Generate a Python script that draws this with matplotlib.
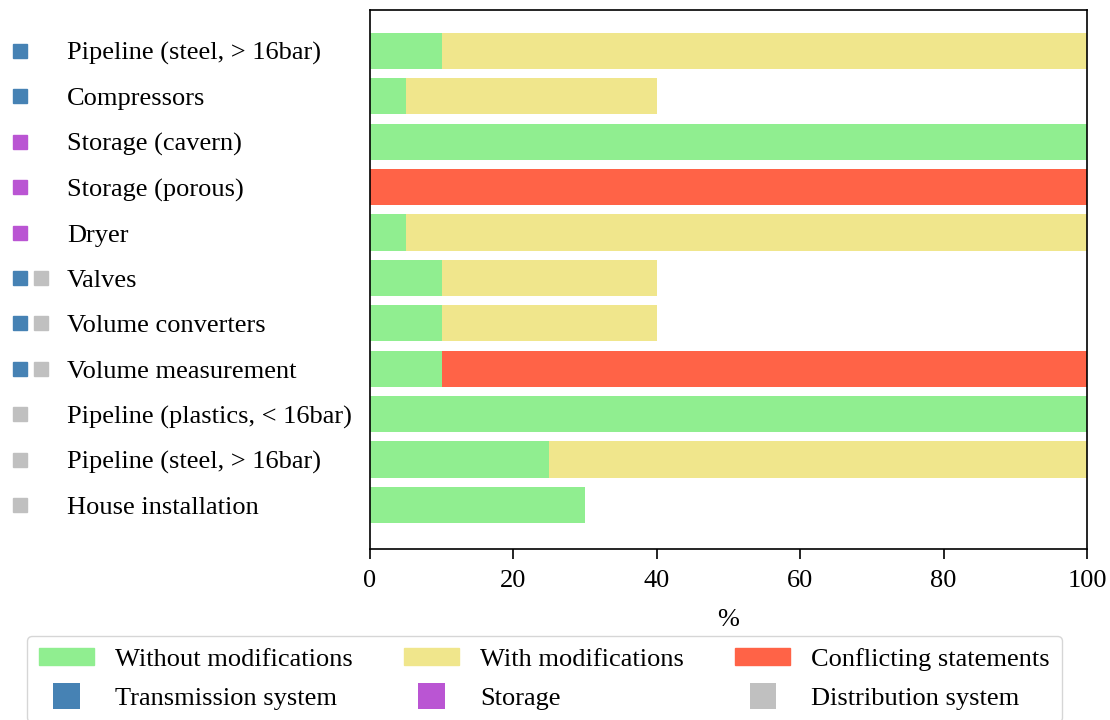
import numpy as np
import matplotlib
matplotlib.use("Agg")
import matplotlib.pyplot as plt
from matplotlib.patches import Patch, Rectangle
from matplotlib.legend_handler import HandlerPatch

plt.rcParams["font.family"] = ["Liberation Serif", "DejaVu Serif"]
plt.rcParams["font.size"] = 19

components = [
    "Pipeline (steel, > 16bar)",
    "Compressors",
    "Storage (cavern)",
    "Storage (porous)",
    "Dryer",
    "Valves",
    "Volume converters",
    "Volume measurement",
    "Pipeline (plastics, < 16bar)",
    "Pipeline (steel, > 16bar)",
    "House installation",
]
without_mod = [10, 5, 100, 0, 5, 10, 10, 10, 100, 25, 30]
with_mod = [90, 35, 0, 0, 95, 30, 30, 0, 0, 75, 0]
conflicting = [0, 0, 0, 100, 0, 0, 0, 90, 0, 0, 0]
# which part of the grid each component belongs to
systems = [
    ["transmission"],
    ["transmission"],
    ["storage"],
    ["storage"],
    ["storage"],
    ["transmission", "distribution"],
    ["transmission", "distribution"],
    ["transmission", "distribution"],
    ["distribution"],
    ["distribution"],
    ["distribution"],
]

C_WITHOUT = "lightgreen"
C_WITH = "khaki"
C_CONFLICT = "tomato"
sys_colors = {"transmission": "steelblue", "storage": "mediumorchid", "distribution": "silver"}

W, H = 1110, 720
fig = plt.figure(figsize=(W / 100, H / 100), dpi=100)
ax = fig.add_axes([370 / W, 1 - 549 / H, 717 / W, 539 / H])

y = np.arange(len(components))
w0 = np.array(without_mod)
w1 = np.array(with_mod)
w2 = np.array(conflicting)
ax.barh(y, w0, height=0.8, color=C_WITHOUT)
ax.barh(y, w1, left=w0, height=0.8, color=C_WITH)
ax.barh(y, w2, left=w0 + w1, height=0.8, color=C_CONFLICT)

ax.set_xlim(0, 100)
ax.set_ylim(len(components) - 0.03, -0.9)
ax.set_yticks([])
ax.set_xticks([0, 20, 40, 60, 80, 100])
ax.tick_params(axis="x", length=7, width=1.2, pad=8)
ax.set_xlabel("%", labelpad=12)
for s in ax.spines.values():
    s.set_linewidth(1.2)

# component names and system markers on the left
for i, name in enumerate(components):
    yc = ax.transData.transform((0, i))[1]
    yf = fig.transFigure.inverted().transform((0, yc))[1]
    fig.text(67 / W, yf - 3 / H, name, ha="left", va="center")
    for j, sname in enumerate(systems[i]):
        x0 = (13 + 21 * j) / W
        fig.patches.append(Rectangle((x0, yf - 7 / H), 14 / W, 14 / H,
                                     transform=fig.transFigure,
                                     color=sys_colors[sname]))


class SquareHandler(HandlerPatch):
    def create_artists(self, legend, orig_handle, xdescent, ydescent,
                       width, height, fontsize, trans):
        s = 19.0  # points
        r = Rectangle((width / 2 - s / 2 - xdescent, height / 2 - s / 2 - ydescent), s, s,
                      facecolor=orig_handle.get_facecolor(), edgecolor="none",
                      transform=trans)
        return [r]


handles = [
    Patch(color=C_WITHOUT, label="Without modifications"),
    Patch(color=sys_colors["transmission"], label="Transmission system"),
    Patch(color=C_WITH, label="With modifications"),
    Patch(color=sys_colors["storage"], label="Storage"),
    Patch(color=C_CONFLICT, label="Conflicting statements"),
    Patch(color=sys_colors["distribution"], label="Distribution system"),
]
sq = SquareHandler()
hmap = {handles[1]: sq, handles[3]: sq, handles[5]: sq}
fig.legend(handles=handles, handler_map=hmap, ncol=3,
           loc="upper left", bbox_to_anchor=(27 / W, 1 - 636 / H),
           handlelength=2.08, handleheight=0.64, handletextpad=0.8,
           columnspacing=1.95, labelspacing=0.62, borderpad=0.45,
           borderaxespad=0, frameon=True)

fig.savefig("out.png", dpi=100)
